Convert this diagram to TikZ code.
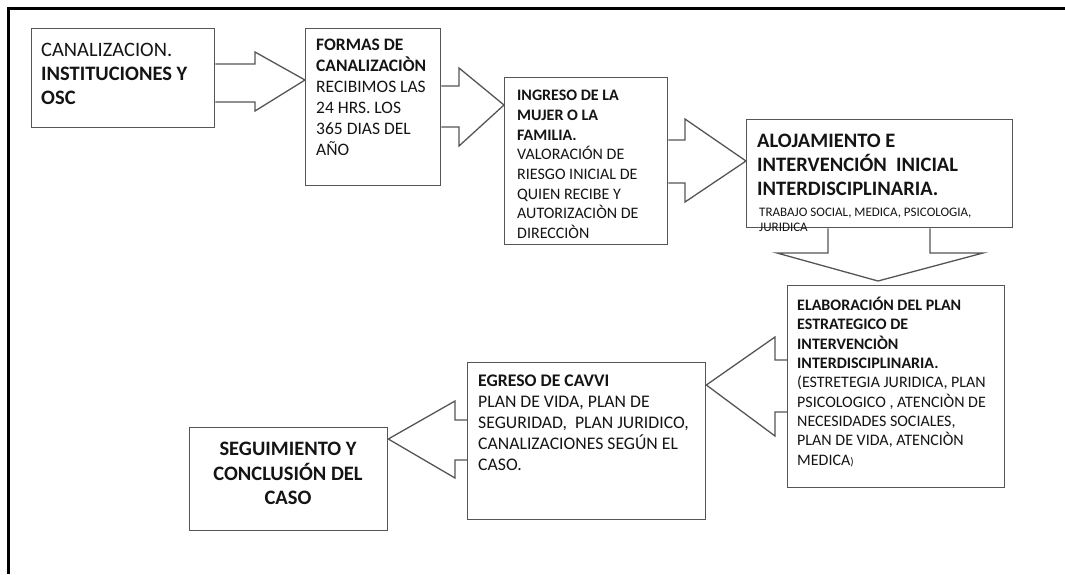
\documentclass[tikz,border=0pt]{standalone}
\usepackage{fontspec}
\setmainfont{Carlito}
\definecolor{linea}{RGB}{85,85,85}
\definecolor{letra}{RGB}{20,20,20}
\tikzset{
  caja/.style={draw=linea, line width=1.3pt, inner sep=0pt, anchor=north west},
  texto/.style={inner sep=0pt, anchor=north west, align=left, text=letra},
  flecha/.style={draw=linea, line width=1.3pt, line join=miter},
  marco/.style={draw=black, line width=3pt},
}

\begin{document}
\begin{tikzpicture}[x=1pt,y=-1pt]
\useasboundingbox (0,0) rectangle (1065,574);
\draw[marco] (8,574) -- (8,8) -- (1065,8);

% Cajas
\node[caja, minimum width=183pt, minimum height=99pt] (canal) at (31,28) {};
\node[caja, minimum width=135pt, minimum height=157pt] (formas) at (305,28) {};
\node[caja, minimum width=163pt, minimum height=167pt] (ingreso) at (504,77) {};
\node[caja, minimum width=266pt, minimum height=108pt] (aloj) at (746,119) {};
\node[caja, minimum width=217pt, minimum height=202pt] (plan) at (787,285) {};
\node[caja, minimum width=238pt, minimum height=157pt] (egreso) at (467,362) {};
\node[caja, minimum width=198pt, minimum height=103pt] (seg) at (189,427) {};

% Textos
\node[texto, font=\fontsize{20.5}{24}\selectfont] (canal-txt) at (41,43)
  {CANALIZACION.\\\textbf{INSTITUCIONES Y}\\\textbf{OSC}};
\node[texto, font=\fontsize{17.5}{21}\selectfont] (formas-txt) at (316,39)
  {\textbf{FORMAS DE}\\\textbf{CANALIZACIÒN}\\RECIBIMOS LAS\\24 HRS. LOS\\365 DIAS DEL\\AÑO};
\node[texto, font=\fontsize{16}{19.7}\selectfont] (ingreso-txt) at (517,90)
  {\textbf{INGRESO DE LA}\\\textbf{MUJER O LA}\\\textbf{FAMILIA.}\\VALORACIÓN DE\\RIESGO INICIAL DE\\QUIEN RECIBE Y\\AUTORIZACIÒN DE\\DIRECCIÒN};
\node[texto, font=\fontsize{20.5}{24}\selectfont\bfseries] (aloj-txt) at (757,134)
  {ALOJAMIENTO E\\INTERVENCIÓN\ \ INICIAL\\INTERDISCIPLINARIA.};
\node[texto, font=\fontsize{13}{15}\selectfont] (aloj-sub) at (759,208)
  {TRABAJO SOCIAL, MEDICA, PSICOLOGIA,\\JURIDICA};
\node[texto, font=\fontsize{16}{19.3}\selectfont] (plan-txt) at (797,297)
  {\textbf{ELABORACIÓN DEL PLAN}\\\textbf{ESTRATEGICO DE}\\\textbf{INTERVENCIÒN}\\\textbf{INTERDISCIPLINARIA.}\\(ESTRETEGIA JURIDICA, PLAN\\PSICOLOGICO , ATENCIÒN DE\\NECESIDADES SOCIALES,\\PLAN DE VIDA, ATENCIÒN\\MEDICA{\fontsize{11}{11}\selectfont)}};
\node[texto, font=\fontsize{17.7}{21}\selectfont] (egreso-txt) at (478,375)
  {\textbf{EGRESO DE CAVVI}\\PLAN DE VIDA, PLAN DE\\SEGURIDAD,\ \ PLAN JURIDICO,\\CANALIZACIONES SEGÚN EL\\CASO.};
\node[texto, anchor=north, align=center, font=\fontsize{20.5}{24.5}\selectfont\bfseries] (seg-txt) at (288,442)
  {SEGUIMIENTO Y\\CONCLUSIÓN DEL\\CASO};

% Flechas
\draw[flecha] (canal.east |- 0,64) -- (255,64) -- (255,52) -- (formas.west |- 0,80)
  -- (255,111) -- (255,102) -- (canal.east |- 0,102);
\draw[flecha] (formas.east |- 0,86) -- (459,86) -- (459,68) -- (ingreso.west |- 0,105)
  -- (459,146) -- (459,127) -- (formas.east |- 0,127);
\draw[flecha] (ingreso.east |- 0,140) -- (685,140) -- (685,119) -- (aloj.west |- 0,161)
  -- (685,202) -- (685,183) -- (ingreso.east |- 0,183);
\draw[flecha] (aloj.south -| 828,0) -- (828,253) -- (777,253) -- ([yshift=4pt]plan.north -| 878,0)
  -- (983,253) -- (930,253) -- (aloj.south -| 930,0);
\draw[flecha] (plan.west |- 0,360) -- (775,360) -- (775,337) -- (egreso.east |- 0,385)
  -- (775,436) -- (775,412) -- (plan.west |- 0,412);
\draw[flecha] (egreso.west |- 0,420) -- (455,420) -- (455,401) -- (seg.east |- 0,439)
  -- (455,478) -- (455,460) -- (egreso.west |- 0,460);
\end{tikzpicture}
\end{document}
